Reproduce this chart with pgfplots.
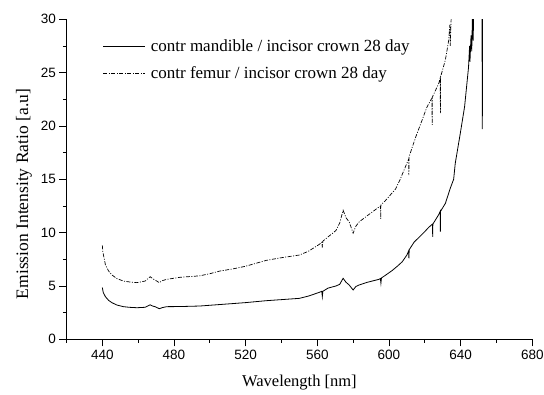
\documentclass[border=0pt]{standalone}
\usepackage{fontspec}
\setmainfont{Liberation Serif}
\newfontfamily\arialfont{Liberation Sans}
\usepackage{pgfplots}
\pgfplotsset{compat=1.18}
\begin{document}
\begin{tikzpicture}
\begin{axis}[
  scale only axis, width=465.8pt, height=320pt,
  xmin=420, xmax=680, ymin=0, ymax=30,
  axis x line=bottom, axis y line=left,
  axis line style={-, line width=0.8pt},
  xtick={440,480,...,680}, minor xtick={420,460,...,660},
  ytick={0,5,...,30}, minor ytick={2.5,7.5,...,27.5},
  tick align=outside, major tick length=7pt, minor tick length=3.5pt,
  tick style={line width=0.8pt, black},
  /pgf/number format/assume math mode=true,
  ticklabel style={font=\arialfont\fontsize{13.5}{15}\selectfont},
  xlabel={Wavelength [nm]}, ylabel={Emission Intensity Ratio [a.u]},
  xlabel style={font=\fontsize{16.5}{18}\selectfont, at={(rel axis cs:0.5,-0.149)}, anchor=base},
  ylabel style={font=\fontsize{17.5}{19}\selectfont, at={(rel axis cs:-0.0912,0.454)}, anchor=center},
  legend style={at={(rel axis cs:0.078,0.942)}, anchor=north west, draw=none, fill=none,
    font=\fontsize{17}{19}\selectfont, row sep=9.5pt, inner sep=0pt},
  legend cell align=left,
  legend image code/.code={\draw[#1] (0pt,0pt) -- (42pt,0pt); \path (45pt,0pt);},
]
\addplot[black, line width=0.8pt] coordinates {
(440.0,4.85) (440.5,4.4) (441.7,4.0) (443.5,3.65) (445.4,3.43) (448,3.22) (451.8,3.06)
(455,3.0) (459.3,2.96) (463.9,3.0) (466.7,3.23) (468,3.12) (469.4,3.06) (471.8,2.87)
(473.5,2.97) (475.9,3.06) (483.3,3.07) (494.4,3.12) (505.6,3.26) (512.9,3.35) (520,3.44)
(531.5,3.62) (540,3.72) (550,3.84) (555,4.05) (561.1,4.4) (562.5,4.5) (562.8,4.0) (563.1,4.5)
(566,4.8) (570.4,5.0) (572.5,5.15) (574.4,5.72) (576,5.35) (577.8,5.09) (580,4.62)
(581.5,4.95) (583.3,5.09) (588,5.35) (594.4,5.62) (595.2,5.7) (595.5,5.25) (595.8,5.75)
(598,6.0) (601.8,6.45) (605,6.9) (607.4,7.27) (610,7.9) (611.0,8.3) (611.1,7.6) (611.3,8.4)
(614,9.1) (616.7,9.55) (620,10.1) (622.2,10.5) (624.3,10.8) (624.4,9.6) (624.5,10.8)
(627.8,11.7) (628.6,12.0) (628.7,10.1) (628.8,12.0) (631.5,12.75) (634.3,14.2) (636.1,15.0)
(637,16.5) (639.8,19.3) (642.2,21.8) (644.4,25.5) (645.0,27.5) (645.2,26.0) (645.8,28.5)
(646.2,27.0) (646.6,30.5) (647.0,28.0) (647.3,31) (648,34) (651.8,40) (652.1,19.7) (652.4,40)
};
\addlegendentry{contr mandible / incisor crown 28 day}
\addplot[black, line width=0.7pt, dash pattern=on 4pt off 1.5pt on 1pt off 1.5pt] coordinates {
(440.0,8.8) (440.3,8.2) (441.7,7.0) (443.5,6.4) (445.4,6.03) (448,5.7) (451.8,5.46)
(455,5.38) (459.3,5.31) (463.9,5.46) (466.7,5.87) (468,5.7) (469.4,5.56) (471.8,5.31)
(473.5,5.5) (475.9,5.62) (483.3,5.81) (494.4,5.95) (500,6.15) (505.6,6.4) (512.9,6.6)
(520,6.85) (531.5,7.4) (540,7.65) (550,7.9) (555,8.25) (561.1,8.9) (562.5,9.1) (562.8,8.6)
(563.1,9.2) (566,9.6) (570.4,10.2) (572.5,10.9) (574.4,12.1) (576,11.4) (577.8,11.0)
(580,9.95) (581.5,10.6) (583.3,11.0) (588,11.6) (594.4,12.4) (595.3,12.5) (595.4,11.3)
(595.5,12.6) (598,13.0) (603.7,14.1) (606,14.9) (611,16.9) (611.1,15.4) (611.2,17.1)
(615,19.0) (618.5,20.55) (621,21.7) (623.2,22.4) (624,22.6) (624.1,20.1) (624.2,22.7)
(627.8,24.0) (628.6,24.5) (628.7,21.2) (628.8,24.6) (631.5,26.2) (633.3,28.0) (634.0,29.5)
(634.2,27.5) (634.8,30.5) (635.5,33)
};
\addlegendentry{contr femur / incisor crown 28 day}
\coordinate (SW) at (rel axis cs:0,0);
\node[font=\fontsize{18}{20}\selectfont] at (rel axis cs:-0.0854,0.937) {(c)};
\end{axis}
\pgfresetboundingbox
\path ([shift={(-66.5pt,-54.7pt)}]SW) rectangle ([shift={(477.5pt,339.3pt)}]SW);
\end{tikzpicture}
\end{document}
